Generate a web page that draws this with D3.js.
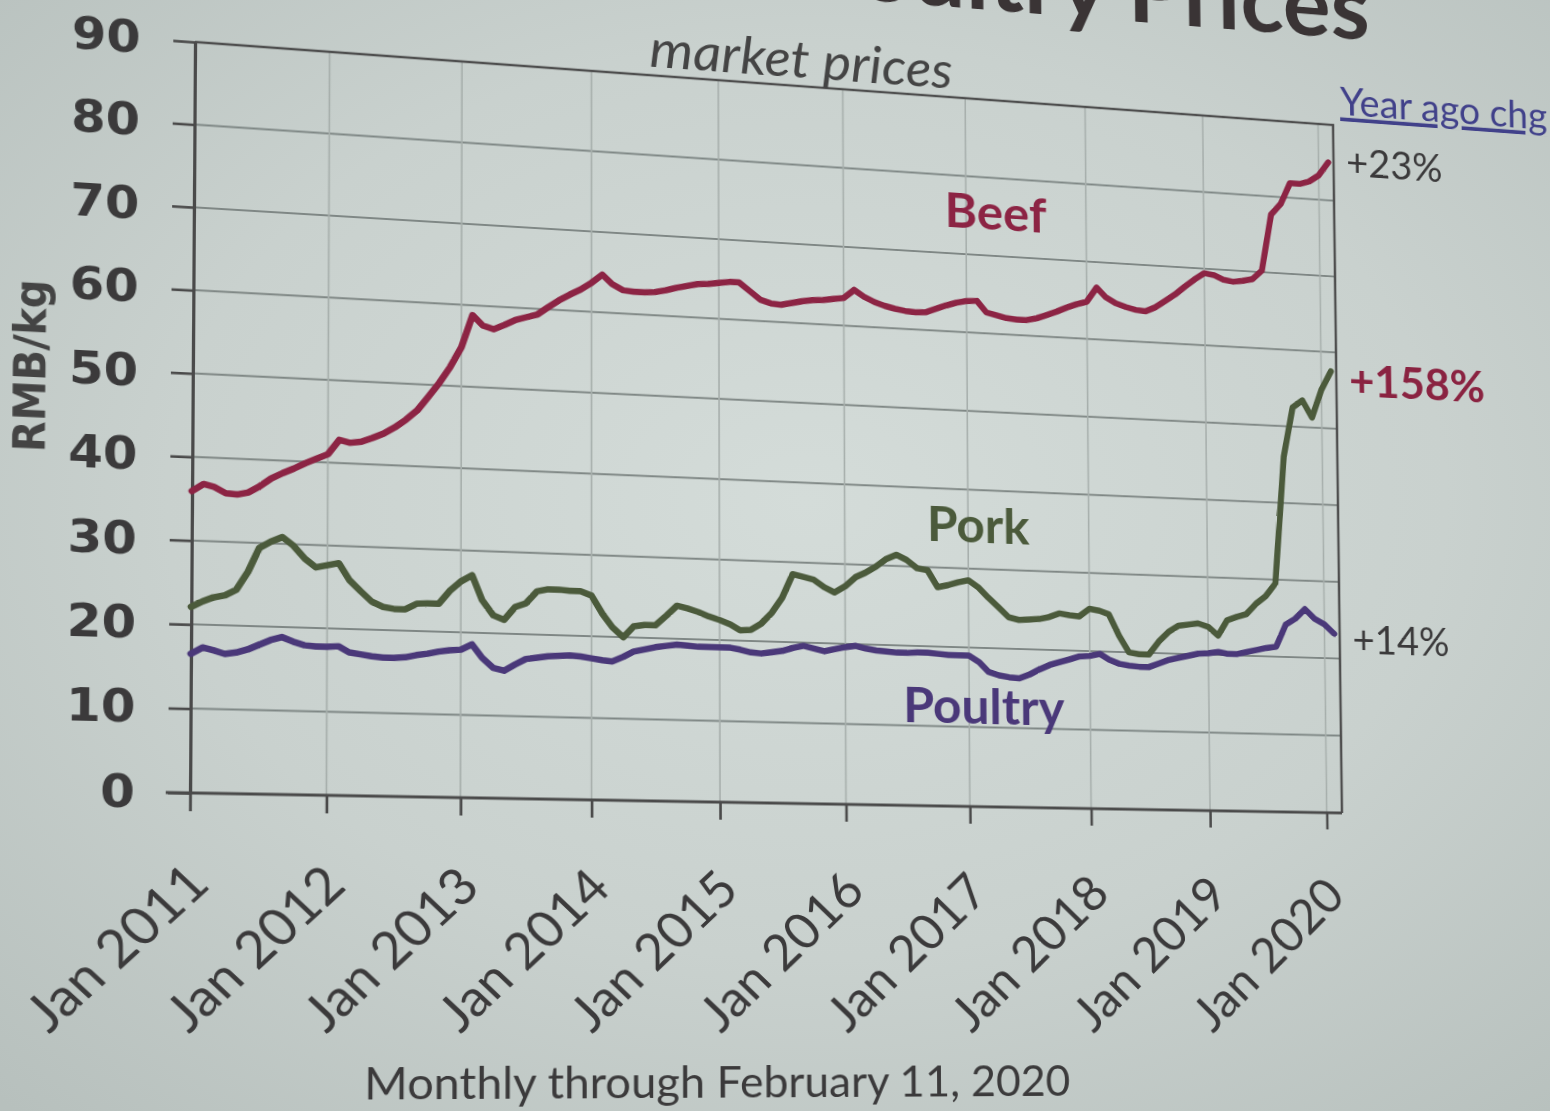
<!DOCTYPE html>
<html>
<head>
<meta charset="utf-8">
<script src="https://cdn.jsdelivr.net/npm/d3@7"></script>
<style>
  html, body { margin: 0; padding: 0; width: 1550px; height: 1111px; overflow: hidden; }
  body { background: radial-gradient(ellipse 75% 75% at 52% 45%, #d4dcd9 0%, #c9d1ce 55%, #b7c0bd 100%); }
  #slide { position: absolute; left: 0; top: 0; width: 1550px; height: 1111px; transform-origin: 0 0; }
  #slide svg { overflow: visible; display: block; }
</style>
</head>
<body>
<div id="slide"></div>
<script>
// monthly market prices, RMB/kg, Jan 2011 .. Feb 2020
const beef = [
    35.9, 36.8, 36.5, 35.8, 35.7, 36.0, 36.8, 37.8, 38.5, 39.1, 39.8, 40.4,
    41.0, 42.8, 42.5, 42.7, 43.2, 43.8, 44.6, 45.6, 46.8, 48.5, 50.3, 52.3,
    54.8, 58.8, 57.6, 57.2, 57.8, 58.5, 58.9, 59.3, 60.3, 61.2, 62.0, 62.7,
    63.6, 64.7, 63.6, 62.9, 62.8, 62.8, 62.9, 63.2, 63.6, 63.9, 64.2, 64.3,
    64.5, 64.7, 64.7, 63.7, 62.7, 62.3, 62.2, 62.5, 62.8, 63.0, 63.1, 63.3,
    63.5, 64.6, 63.8, 63.2, 62.8, 62.5, 62.3, 62.2, 62.3, 62.8, 63.3, 63.7,
    64.0, 64.1, 62.7, 62.4, 62.1, 62.0, 62.0, 62.3, 62.8, 63.3, 63.9, 64.4,
    64.8, 66.7, 65.5, 64.8, 64.4, 64.1, 64.0, 64.6, 65.5, 66.4, 67.5, 68.5,
    69.4, 69.2, 68.7, 68.5, 68.7, 69.0, 70.2, 77.6, 79.1, 81.9, 81.9, 82.3,
    83.2, 85.0
];
const pork = [
    22.1, 22.8, 23.3, 23.6, 24.3, 26.5, 29.4, 30.2, 30.8, 29.8, 28.3, 27.3,
    27.6, 27.9, 25.9, 24.6, 23.4, 22.8, 22.6, 22.6, 23.3, 23.4, 23.4, 25.0,
    26.2, 27.0, 24.0, 22.2, 21.7, 23.3, 23.8, 25.3, 25.6, 25.6, 25.5, 25.5,
    25.0, 22.8, 21.2, 20.0, 21.4, 21.6, 21.6, 22.8, 24.1, 23.8, 23.4, 22.9,
    22.5, 22.0, 21.3, 21.4, 22.2, 23.6, 25.5, 28.5, 28.2, 27.9, 27.0, 26.4,
    27.2, 28.4, 29.0, 29.8, 30.8, 31.4, 30.8, 29.8, 29.6, 27.5, 27.8, 28.2,
    28.5, 27.6, 26.4, 25.2, 24.0, 23.7, 23.8, 23.9, 24.2, 24.7, 24.5, 24.4,
    25.4, 25.2, 24.8, 22.1, 20.0, 19.8, 19.8, 21.5, 22.8, 23.6, 23.8, 24.0,
    23.6, 22.5, 24.5, 25.0, 25.4, 26.8, 27.8, 29.5, 46.0, 52.5, 53.5, 51.3,
    55.0, 57.5
];
const poultry = [
    16.5, 17.3, 17.0, 16.6, 16.8, 17.2, 17.8, 18.4, 18.8, 18.3, 17.9, 17.8,
    17.8, 17.9, 17.2, 17.0, 16.8, 16.7, 16.7, 16.8, 17.1, 17.3, 17.6, 17.8,
    17.9, 18.6, 17.0, 15.8, 15.5, 16.3, 17.0, 17.2, 17.4, 17.5, 17.6, 17.5,
    17.3, 17.1, 17.0, 17.6, 18.3, 18.6, 18.9, 19.1, 19.3, 19.2, 19.1, 19.1,
    19.1, 19.1, 18.9, 18.6, 18.5, 18.7, 18.9, 19.3, 19.6, 19.3, 19.0, 19.3,
    19.6, 19.8, 19.5, 19.3, 19.2, 19.1, 19.1, 19.2, 19.2, 19.1, 19.0, 19.0,
    19.0, 18.2, 17.0, 16.6, 16.4, 16.3, 16.8, 17.5, 18.1, 18.5, 18.9, 19.3,
    19.4, 19.7, 19.0, 18.5, 18.3, 18.2, 18.2, 18.7, 19.2, 19.5, 19.8, 20.1,
    20.2, 20.4, 20.2, 20.2, 20.5, 20.8, 21.1, 21.3, 24.2, 25.0, 26.3, 25.1,
    24.4, 23.2
];
const months = d3.timeMonth.range(new Date(2011, 0, 1), new Date(2020, 2, 1));
const yTicks = [0, 10, 20, 30, 40, 50, 60, 70, 80, 90];
const xTickYears = [2011, 2012, 2013, 2014, 2015, 2016, 2017, 2018, 2019, 2020];
const seriesNames = ['Beef', 'Pork', 'Poultry'];
const yearAgoChg = ['+23%', '+158%', '+14%'];

const W = 1550, H = 1111;
// plot box on the flat slide
const PL = 192, PR = 1338, PT = 42, PB = 793;
// where the plot corners sit in the photo of the screen
const photoCorners = [[195, 42], [1333, 125], [190, 793], [1342, 813]];

const colors = { Beef: '#8c2444', Pork: '#4b5a3b', Poultry: '#4a3879' };
const textDark = '#3b3a3b';
const sans = 'Lato, "Open Sans", sans-serif';

const x = d3.scaleTime()
    .domain([new Date(2011, 0, 1), new Date(2020, 1, 18)])
    .range([PL, PR]);
const y = d3.scaleLinear().domain([0, 90]).range([PB, PT]);

const svg = d3.select('#slide').append('svg')
    .attr('width', W)
    .attr('height', H);

// gridlines
svg.append('g')
    .selectAll('line')
    .data(yTicks.filter(d => d > 0 && d < 90))
    .join('line')
    .attr('x1', PL).attr('x2', PR)
    .attr('y1', d => y(d)).attr('y2', d => y(d))
    .attr('stroke', '#7f8785')
    .attr('stroke-width', 2);
svg.append('g')
    .selectAll('line')
    .data(xTickYears.slice(1).map(yr => new Date(yr, 0, 1)))
    .join('line')
    .attr('x1', d => x(d)).attr('x2', d => x(d))
    .attr('y1', PT).attr('y2', PB)
    .attr('stroke', '#a7afac')
    .attr('stroke-width', 1.6);

// plot frame (top and right)
svg.append('path')
    .attr('d', `M${PL},${PT}H${PR}V${PB}`)
    .attr('fill', 'none')
    .attr('stroke', '#4e4e4e')
    .attr('stroke-width', 2.6);

// y axis
const yAxis = svg.append('g')
    .attr('transform', `translate(${PL},0)`)
    .call(d3.axisLeft(y).tickValues(yTicks).tickSizeInner(20).tickSizeOuter(0).tickPadding(30));
yAxis.select('.domain').attr('stroke', '#4a4a4a').attr('stroke-width', 3);
yAxis.selectAll('.tick line').attr('stroke', '#4a4a4a').attr('stroke-width', 2.6);
yAxis.selectAll('.tick text')
    .attr('fill', textDark)
    .style('font-family', '"DejaVu Sans", Verdana, sans-serif')
    .style('font-weight', 'bold')
    .style('font-size', '45px');

// x axis
const xAxis = svg.append('g')
    .attr('transform', `translate(0,${PB})`)
    .call(d3.axisBottom(x)
        .tickValues(xTickYears.map(yr => new Date(yr, 0, 1)))
        .tickFormat(d3.timeFormat('Jan %Y'))
        .tickSizeInner(18).tickSizeOuter(0));
xAxis.select('.domain')
    .attr('d', `M${PL - 22},0H${PR}`)
    .attr('stroke', '#4a4a4a').attr('stroke-width', 3);
xAxis.selectAll('.tick line').attr('stroke', '#4a4a4a').attr('stroke-width', 2.6);
xAxis.selectAll('.tick text')
    .attr('x', 0).attr('y', 0).attr('dy', 0)
    .attr('text-anchor', 'end')
    .attr('transform', 'translate(20,92) rotate(-45)')
    .attr('fill', textDark)
    .style('font-family', sans)
    .style('font-size', '51px');

// price lines
const series = [beef, pork, poultry].map((vals, i) => ({
    name: seriesNames[i],
    values: vals.map((v, j) => ({ date: months[j], value: v }))
}));
const line = d3.line().x(d => x(d.date)).y(d => y(d.value));
svg.append('g')
    .selectAll('path')
    .data(series)
    .join('path')
    .attr('d', d => line(d.values))
    .attr('fill', 'none')
    .attr('stroke', d => colors[d.name])
    .attr('stroke-width', 6.5)
    .attr('stroke-linejoin', 'round')
    .attr('stroke-linecap', 'round');

// series names inside the plot
const nameSpots = [
    { name: 'Beef', date: new Date(2017, 3, 1), value: 75.5 },
    { name: 'Pork', date: new Date(2017, 1, 1), value: 35.5 },
    { name: 'Poultry', date: new Date(2017, 1, 15), value: 12.6 }
];
svg.append('g')
    .selectAll('text')
    .data(nameSpots)
    .join('text')
    .attr('x', d => x(d.date))
    .attr('y', d => y(d.value))
    .attr('dy', '0.36em')
    .attr('text-anchor', 'middle')
    .attr('fill', d => colors[d.name])
    .style('font-family', sans)
    .style('font-weight', 'bold')
    .style('font-size', '51px')
    .text(d => d.name);

// year-ago change labels at the line ends
const ends = series.map((s, i) => ({
    name: s.name,
    label: yearAgoChg[i],
    value: s.values[s.values.length - 1].value
}));
const endOffset = { Beef: 13, Pork: 26, Poultry: 21 };
svg.append('g')
    .selectAll('text')
    .data(ends)
    .join('text')
    .attr('x', PR + 14)
    .attr('y', d => y(d.value) + endOffset[d.name])
    .attr('fill', d => d.name === 'Pork' ? '#8a2341' : textDark)
    .style('font-family', sans)
    .style('font-weight', d => d.name === 'Pork' ? 'bold' : 'normal')
    .style('font-size', d => d.name === 'Pork' ? '48px' : '42px')
    .text(d => d.label);

svg.append('text')
    .attr('x', PR + 8)
    .attr('y', PT - 12)
    .attr('fill', '#41418a')
    .style('font-family', sans)
    .style('font-size', '42px')
    .style('text-decoration', 'underline')
    .text('Year ago chg');

// titles
svg.append('text')
    .attr('x', (PL + PR) / 2 + 14)
    .attr('y', PT - 9)
    .attr('text-anchor', 'middle')
    .attr('fill', '#444')
    .style('font-family', sans)
    .style('font-style', 'italic')
    .style('font-size', '55px')
    .text('market prices');

svg.append('text')
    .attr('x', PR + 42)
    .attr('y', PT - 97)
    .attr('text-anchor', 'end')
    .attr('fill', '#3a3435')
    .style('font-family', sans)
    .style('font-weight', 'bold')
    .style('font-size', '98px')
    .text('China Meat and Poultry Prices');

svg.append('text')
    .attr('transform', `translate(${PL - 148},${y(50)}) rotate(-90)`)
    .attr('text-anchor', 'middle')
    .attr('dy', '0.36em')
    .attr('fill', '#444')
    .style('font-family', '"DejaVu Sans", Verdana, sans-serif')
    .style('font-weight', 'bold')
    .style('font-size', '40px')
    .text('RMB/kg');

svg.append('text')
    .attr('x', 700)
    .attr('y', PB + 302)
    .attr('text-anchor', 'middle')
    .attr('fill', textDark)
    .style('font-family', sans)
    .style('font-size', '44px')
    .text('Monthly through February 11, 2020');

// the slide was photographed at an angle: map the flat plot box onto
// the photographed corners with a projective transform
function homography(src, dst) {
    const A = [], b = [];
    src.forEach(([u, v], i) => {
        const [X, Y] = dst[i];
        A.push([u, v, 1, 0, 0, 0, -u * X, -v * X]); b.push(X);
        A.push([0, 0, 0, u, v, 1, -u * Y, -v * Y]); b.push(Y);
    });
    const n = 8;
    for (let c = 0; c < n; c++) {
        let p = c;
        for (let r = c + 1; r < n; r++)
            if (Math.abs(A[r][c]) > Math.abs(A[p][c])) p = r;
        [A[c], A[p]] = [A[p], A[c]];
        [b[c], b[p]] = [b[p], b[c]];
        for (let r = 0; r < n; r++) {
            if (r === c) continue;
            const f = A[r][c] / A[c][c];
            for (let k = c; k < n; k++) A[r][k] -= f * A[c][k];
            b[r] -= f * b[c];
        }
    }
    return b.map((v, i) => v / A[i][i]);
}
const h = homography([[PL, PT], [PR, PT], [PL, PB], [PR, PB]], photoCorners);
const m3d = [h[0], h[3], 0, h[6], h[1], h[4], 0, h[7], 0, 0, 1, 0, h[2], h[5], 0, 1];
d3.select('#slide').style('transform', `matrix3d(${m3d.join(',')})`);
</script>
</body>
</html>
